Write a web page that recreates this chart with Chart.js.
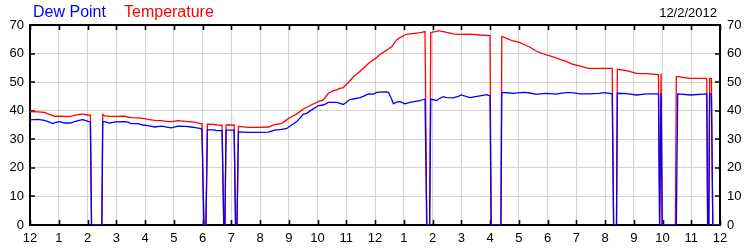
<!DOCTYPE html>
<html><head><meta charset="utf-8">
<script src="https://cdn.jsdelivr.net/npm/chart.js@4/dist/chart.umd.min.js"></script>
<style>
html,body{margin:0;padding:0;background:#fff;}
#wrap{position:relative;width:750px;height:250px;overflow:hidden;}
canvas{position:absolute;left:0;top:0;}
.lbl{position:absolute;font-family:"Liberation Sans",Arial,sans-serif;white-space:nowrap;line-height:normal;}
</style></head><body>
<div id="wrap">
<canvas id="c" width="750" height="250"></canvas>
<div class="lbl" style="left:33px;top:3px;font-size:16px;color:#0000ff">Dew Point</div>
<div class="lbl" style="left:124px;top:3px;font-size:16px;color:#ff0000">Temperature</div>
<div class="lbl" style="right:33px;top:5px;font-size:13px;color:#000">12/2/2012</div>
</div>
<script>
const hourLabels = ["12","1","2","3","4","5","6","7","8","9","10","11","12","1","2","3","4","5","6","7","8","9","10","11","12"];
const yTicks = [0,10,20,30,40,50,60,70];
const times = [0,0.28,0.5,0.63,0.8,0.86,1.03,1.2,1.4,1.55,1.67,1.79,1.84,2.02,2.1,2.14,2.5,2.53,2.6,2.77,2.98,3.29,3.4,3.52,3.76,3.93,4.1,4.34,4.57,4.8,4.92,5.15,5.4,5.61,5.75,5.9,5.98,6.05,6.12,6.17,6.4,6.5,6.68,6.74,6.78,6.82,7.1,7.15,7.2,7.25,7.6,8.0,8.29,8.46,8.52,8.75,8.93,8.99,9.28,9.51,9.62,9.8,10.03,10.2,10.38,10.55,10.67,10.78,10.9,11.07,11.13,11.25,11.48,11.59,11.77,11.94,12.06,12.17,12.41,12.47,12.58,12.64,12.75,12.87,13.04,13.1,13.22,13.39,13.57,13.62,13.74,13.8,13.9,13.94,14.14,14.2,14.37,14.49,14.72,14.9,15.0,15.3,15.65,15.88,16.0,16.04,16.38,16.41,16.7,16.81,17.04,17.22,17.39,17.62,17.74,17.97,18.09,18.32,18.43,18.67,18.84,19.13,19.42,19.8,20.0,20.25,20.3,20.4,20.43,20.75,21.1,21.45,21.86,21.9,21.95,21.99,22.45,22.48,22.53,22.96,23.54,23.57,23.61,23.64,23.7,23.75,24];
const temperature = [39.7,39.6,39.4,38.9,38.3,38.0,38.1,38.0,38.0,38.4,38.6,38.8,38.8,38.5,38.4,0,0,38.7,38.2,38.0,38.0,38.1,37.8,37.6,37.5,37.3,37.0,36.6,36.5,36.2,36.2,36.5,36.3,36.1,35.9,35.6,35.4,0,0,35.3,35.2,35.0,34.9,0,0,35.0,35.0,0,0,34.5,34.2,34.2,34.3,35.0,35.1,35.6,36.8,37.3,38.9,40.6,41.2,42.1,43.2,43.8,46.1,47.0,47.3,47.8,48.1,49.9,50.5,51.9,53.8,54.8,56.5,57.8,58.6,59.7,61.2,61.7,62.4,63.2,64.8,65.6,66.5,66.7,66.9,67.1,67.3,67.4,67.7,0,0,67.4,67.8,68.0,67.7,67.4,66.9,66.7,66.7,66.8,66.5,66.4,66.3,0,0,66.0,64.8,64.4,63.8,63.0,62.2,60.8,60.3,59.5,59.2,58.4,58.0,57.2,56.4,55.6,54.8,54.8,54.8,54.8,0,0,54.5,54.0,53.1,53.0,52.6,0,53.0,0,0,51.9,51.9,51.3,51.3,0,0,51.3,51.3,0,0];
const dewPoint = [36.8,37.0,36.6,36.2,35.5,35.8,36.2,35.7,35.7,36.2,36.5,36.8,36.9,36.3,36.0,0,0,36.2,36.2,35.7,36.1,36.2,36.0,35.5,35.5,35.0,34.8,34.3,34.6,34.2,34.0,34.6,34.5,34.3,34.1,33.8,33.6,0,0,33.3,33.3,33.0,33.0,0,0,33.2,33.2,0,0,32.6,32.4,32.4,32.5,33.0,33.2,33.5,33.8,34.2,36.2,38.8,39.1,40.3,41.8,42.0,42.9,42.9,42.9,42.6,42.2,43.5,43.9,44.1,44.6,45.0,45.9,45.8,46.4,46.5,46.6,46.4,44.0,42.4,43.0,43.2,42.4,42.6,42.9,43.3,43.5,43.75,44.1,0,0,44.1,43.6,44.0,44.9,44.6,44.5,45.0,45.5,44.6,45.2,45.6,45.2,0,0,46.4,46.2,46.1,46.3,46.4,46.2,45.7,45.9,46.1,46.0,45.8,46.1,46.3,46.3,45.9,45.9,46.1,46.3,45.9,0,0,46.1,46.0,45.5,45.9,45.9,0,46.0,0,0,0,45.9,45.5,45.9,0,0,45.9,45.9,0,0];

const frame = {
  id:'frame',
  beforeDatasetsDraw(chart){
    const {ctx, chartArea:a} = chart;
    const xs = chart.scales.x, ys = chart.scales.y;
    ctx.save();
    ctx.strokeStyle = '#000';
    ctx.lineWidth = 1.6;
    ctx.beginPath();
    for (let h=0; h<hourLabels.length; h++){
      const px = Math.round(xs.getPixelForValue(h))+0.5;
      ctx.moveTo(px, a.bottom); ctx.lineTo(px, a.bottom-5);
      ctx.moveTo(px, a.top); ctx.lineTo(px, a.top+5);
    }
    for (const v of yTicks){
      const py = Math.round(ys.getPixelForValue(v));
      ctx.moveTo(a.left, py); ctx.lineTo(a.left+5, py);
      ctx.moveTo(a.right, py); ctx.lineTo(a.right-5, py);
    }
    ctx.stroke();
    ctx.lineWidth = 2;
    ctx.strokeRect(a.left, a.top, a.right-a.left, a.bottom-a.top);
    ctx.restore();
  }
};

const font = {family:'"Liberation Sans", Arial, sans-serif', size:13};
new Chart(document.getElementById('c'), {
  type:'line',
  data:{datasets:[
    {label:'Dew Point', data:times.map((t,i)=>({x:t,y:dewPoint[i]})), borderColor:'#0000ff', borderWidth:1.3, pointRadius:0, tension:0, fill:false},
    {label:'Temperature', data:times.map((t,i)=>({x:t,y:temperature[i]})), borderColor:'#ff0000', borderWidth:1.3, pointRadius:0, tension:0, fill:false}
  ]},
  options:{
    responsive:false, animation:false, events:[],
    layout:{padding:{top:25,left:0,right:0,bottom:0}},
    plugins:{legend:{display:false}, tooltip:{enabled:false}},
    scales:{
      x:{type:'linear', position:'bottom', min:0, max:24,
         afterFit(s){s.height=25;},
         ticks:{stepSize:1, autoSkip:false, maxRotation:0, padding:6, color:'#000', font, callback:(v)=>hourLabels[v]},
         grid:{color:'#d3d3d3', lineWidth:1, drawTicks:false},
         border:{display:false}},
      y:{position:'left', min:0, max:70,
         afterFit(s){s.width=30;},
         ticks:{stepSize:10, padding:6, color:'#000', font},
         grid:{color:'#d3d3d3', lineWidth:1, drawTicks:false},
         border:{display:false}},
      y2:{position:'right', min:0, max:70,
         afterFit(s){s.width=30;},
         ticks:{stepSize:10, padding:7, color:'#000', font},
         grid:{display:false, drawTicks:false},
         border:{display:false}}
    }
  },
  plugins:[frame]
});
</script>
</body></html>
